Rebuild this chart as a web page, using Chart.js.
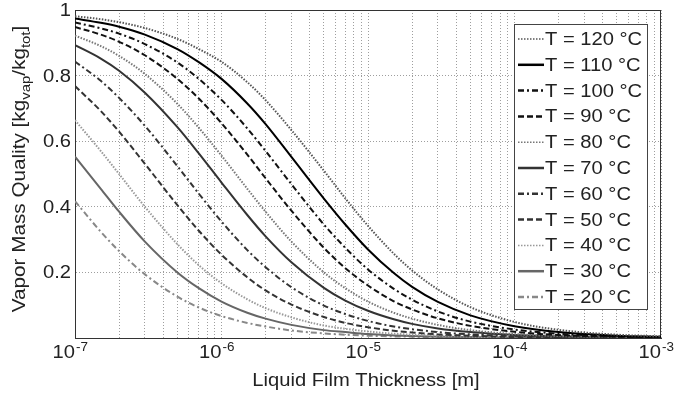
<!DOCTYPE html>
<html>
<head>
<meta charset="utf-8">
<script src="https://cdn.jsdelivr.net/npm/chart.js@4.4.1/dist/chart.umd.min.js"></script>
<style>
  html, body { margin: 0; padding: 0; background: #fff; }
  #wrap { width: 679px; height: 396px; }
</style>
</head>
<body>
<div id="wrap"><canvas id="qualityChart" width="679" height="396"></canvas></div>
<script>
// film thickness [m]
const thickness = [1e-7, 1.5e-7, 2e-7, 3e-7, 5e-7, 7e-7, 1e-6, 1.5e-6, 2e-6, 3e-6, 5e-6, 7e-6,
                   1e-5, 1.5e-5, 2e-5, 3e-5, 5e-5, 1e-4, 2e-4, 5e-4, 1e-3];

// vapor mass quality per temperature
const q120 = [0.981, 0.972, 0.963, 0.945, 0.912, 0.881, 0.842, 0.780, 0.725, 0.634, 0.510, 0.426, 0.342, 0.257, 0.206, 0.148, 0.094, 0.049, 0.025, 0.010, 0.005];
const q110 = [0.974, 0.961, 0.949, 0.925, 0.881, 0.841, 0.790, 0.715, 0.652, 0.552, 0.425, 0.346, 0.270, 0.198, 0.156, 0.110, 0.069, 0.036, 0.018, 0.007, 0.004];
const q100 = [0.962, 0.944, 0.928, 0.896, 0.840, 0.790, 0.726, 0.639, 0.570, 0.469, 0.346, 0.275, 0.209, 0.150, 0.117, 0.081, 0.050, 0.026, 0.013, 0.005, 0.003];
const q90  = [0.948, 0.925, 0.903, 0.862, 0.790, 0.730, 0.655, 0.559, 0.487, 0.388, 0.275, 0.213, 0.160, 0.112, 0.087, 0.060, 0.037, 0.019, 0.009, 0.004, 0.002];
const q80  = [0.922, 0.890, 0.860, 0.805, 0.714, 0.641, 0.556, 0.455, 0.385, 0.294, 0.200, 0.152, 0.111, 0.077, 0.059, 0.040, 0.024, 0.012, 0.006, 0.003, 0.001];
const q70  = [0.893, 0.852, 0.815, 0.748, 0.643, 0.563, 0.474, 0.375, 0.310, 0.231, 0.153, 0.114, 0.083, 0.057, 0.043, 0.029, 0.018, 0.009, 0.005, 0.002, 0.001];
const q60  = [0.843, 0.784, 0.732, 0.647, 0.524, 0.440, 0.355, 0.268, 0.216, 0.155, 0.099, 0.073, 0.052, 0.035, 0.027, 0.018, 0.011, 0.006, 0.003, 0.001, 0.001];
const q50  = [0.768, 0.692, 0.629, 0.531, 0.405, 0.327, 0.254, 0.185, 0.145, 0.102, 0.064, 0.046, 0.033, 0.022, 0.017, 0.011, 0.007, 0.003, 0.002, 0.001, 0.000];
const q40  = [0.664, 0.570, 0.500, 0.400, 0.286, 0.222, 0.167, 0.118, 0.091, 0.063, 0.038, 0.028, 0.020, 0.013, 0.010, 0.007, 0.004, 0.002, 0.001, 0.000, 0.000];
const q30  = [0.553, 0.455, 0.385, 0.294, 0.200, 0.152, 0.111, 0.077, 0.059, 0.040, 0.024, 0.018, 0.012, 0.008, 0.006, 0.004, 0.003, 0.001, 0.001, 0.000, 0.000];
const q20  = [0.417, 0.324, 0.265, 0.194, 0.126, 0.093, 0.067, 0.046, 0.035, 0.023, 0.014, 0.010, 0.007, 0.005, 0.004, 0.002, 0.001, 0.001, 0.000, 0.000, 0.000];

const temperatures = [120, 110, 100, 90, 80, 70, 60, 50, 40, 30, 20];
const qualities = [q120, q110, q100, q90, q80, q70, q60, q50, q40, q30, q20];

// axis ticks
const xDecades = [-7, -6, -5, -4, -3];
const yTicks = [0.2, 0.4, 0.6, 0.8, 1];

const DOT = [1.5, 1.5];
const DASH = [6, 3];
const DASHDOT = [6, 3, 2, 3];
const SOLID = [];

// line look, same order as temperatures
const lineLooks = [
    { color: "#555", dash: DOT },
    { color: "#000", dash: SOLID },
    { color: "#111", dash: DASHDOT },
    { color: "#111", dash: DASH },
    { color: "#777", dash: DOT },
    { color: "#333", dash: SOLID },
    { color: "#333", dash: DASHDOT },
    { color: "#333", dash: DASH },
    { color: "#999", dash: DOT },
    { color: "#666", dash: SOLID },
    { color: "#888", dash: DASHDOT },
];

const FONT = "'Liberation Sans', Arial, Helvetica, sans-serif";
const TEXT = "#222";
const WIDE = 1.12; // glyphs are drawn a bit wider than the font

const datasets = temperatures.map((t, i) => ({
    label: `T = ${t} °C`,
    data: thickness.map((x, j) => ({ x: x, y: qualities[i][j] })),
    borderColor: lineLooks[i].color,
    borderDash: lineLooks[i].dash,
    borderWidth: 2,
    pointRadius: 0,
    fill: false,
    cubicInterpolationMode: "monotone",
}));

function wideText(ctx, text, x, y, align) {
    const w = ctx.measureText(text).width * WIDE;
    let left = x;
    if (align === "right") left = x - w;
    if (align === "center") left = x - w / 2;
    ctx.save();
    ctx.translate(left, y);
    ctx.scale(WIDE, 1);
    ctx.textAlign = "left";
    ctx.fillText(text, 0, 0);
    ctx.restore();
    return w;
}

// frame, tick labels, titles with sub/superscripts, legend
const decorations = {
    id: "decorations",
    beforeDatasetsDraw(chart) {
        const { ctx, chartArea: a } = chart;
        ctx.save();
        ctx.strokeStyle = "#333";
        ctx.lineWidth = 1;
        ctx.strokeRect(a.left + 0.5, a.top + 0.5, a.right - a.left - 1, a.bottom - a.top);
        ctx.restore();
    },
    afterDraw(chart) {
        const { ctx, chartArea: a } = chart;
        const xs = chart.scales.x;
        const ys = chart.scales.y;
        ctx.save();
        ctx.fillStyle = TEXT;

        // y tick labels
        ctx.font = `18px ${FONT}`;
        ctx.textBaseline = "middle";
        yTicks.forEach((v) => {
            wideText(ctx, String(v), a.left - 4, ys.getPixelForValue(v) + 1, "right");
        });

        // x tick labels 10^n
        ctx.textBaseline = "alphabetic";
        xDecades.forEach((e) => {
            const px = xs.getPixelForValue(Math.pow(10, e));
            ctx.font = `18px ${FONT}`;
            wideText(ctx, "10", px, 358, "right");
            ctx.font = `12px ${FONT}`;
            wideText(ctx, String(e), px + 1, 351, "left");
        });

        // x title
        ctx.font = `18px ${FONT}`;
        wideText(ctx, "Liquid Film Thickness [m]", (a.left + a.right) / 2 - 2, 386, "center");

        // y title
        const parts = [
            { t: "Vapor Mass Quality [kg", sub: false },
            { t: "vap", sub: true },
            { t: "/kg", sub: false },
            { t: "tot", sub: true },
            { t: "]", sub: false },
        ];
        const fontOf = (p) => (p.sub ? `13px ${FONT}` : `18px ${FONT}`);
        let total = 0;
        parts.forEach((p) => { ctx.font = fontOf(p); total += ctx.measureText(p.t).width * 1.15; });
        ctx.translate(25, 169);
        ctx.rotate(-Math.PI / 2);
        ctx.scale(1.15, 1);
        let cx = -total / 2 / 1.15;
        ctx.textAlign = "left";
        parts.forEach((p) => {
            ctx.font = fontOf(p);
            ctx.fillText(p.t, cx, p.sub ? 5 : 0);
            cx += ctx.measureText(p.t).width;
        });
        ctx.restore();

        // legend box inside the plot
        const box = { left: 514, top: 24, width: 133, height: 285 };
        ctx.save();
        ctx.fillStyle = "#fff";
        ctx.fillRect(box.left, box.top, box.width, box.height);
        ctx.strokeStyle = "#444";
        ctx.lineWidth = 1;
        ctx.strokeRect(box.left + 0.5, box.top + 0.5, box.width, box.height);
        ctx.font = `18px ${FONT}`;
        ctx.textBaseline = "middle";
        chart.data.datasets.forEach((ds, i) => {
            const y = 39 + i * 25.8;
            ctx.strokeStyle = ds.borderColor;
            ctx.lineWidth = ds.borderDash.length === 2 && ds.borderDash[0] < 2 ? 1.5 : 2.5;
            ctx.setLineDash(ds.borderDash);
            ctx.beginPath();
            ctx.moveTo(518, y);
            ctx.lineTo(544, y);
            ctx.stroke();
            ctx.setLineDash([]);
            ctx.fillStyle = TEXT;
            wideText(ctx, ds.label, 545, y + 1, "left");
        });
        ctx.restore();
    },
};

new Chart(document.getElementById("qualityChart"), {
    type: "line",
    data: { datasets: datasets },
    options: {
        responsive: false,
        animation: false,
        layout: { padding: { top: 10, right: 18, bottom: 0, left: 0 } },
        plugins: { legend: { display: false }, tooltip: { enabled: false } },
        scales: {
            x: {
                type: "logarithmic",
                min: 1e-7,
                max: 1e-3,
                afterBuildTicks(scale) {
                    const ticks = [];
                    xDecades.forEach((e) => {
                        const n = e === xDecades[xDecades.length - 1] ? 1 : 9;
                        for (let k = 1; k <= n; k++) ticks.push({ value: k * Math.pow(10, e) });
                    });
                    scale.ticks = ticks;
                },
                afterFit(scale) { scale.height = 58; },
                ticks: { display: false },
                grid: { color: "rgba(0,0,0,0.38)", lineWidth: 1, drawTicks: false },
                border: { display: true, color: "#333", width: 1, dash: [1, 2] },
            },
            y: {
                min: 0,
                max: 1,
                afterBuildTicks(scale) {
                    scale.ticks = [{ value: 0 }].concat(yTicks.map((v) => ({ value: v })));
                },
                afterFit(scale) { scale.width = 75; },
                ticks: { display: false },
                grid: { color: "rgba(0,0,0,0.38)", lineWidth: 1, drawTicks: false },
                border: { display: true, color: "#333", width: 1, dash: [1, 2] },
            },
        },
    },
    plugins: [decorations],
});
</script>
</body>
</html>
